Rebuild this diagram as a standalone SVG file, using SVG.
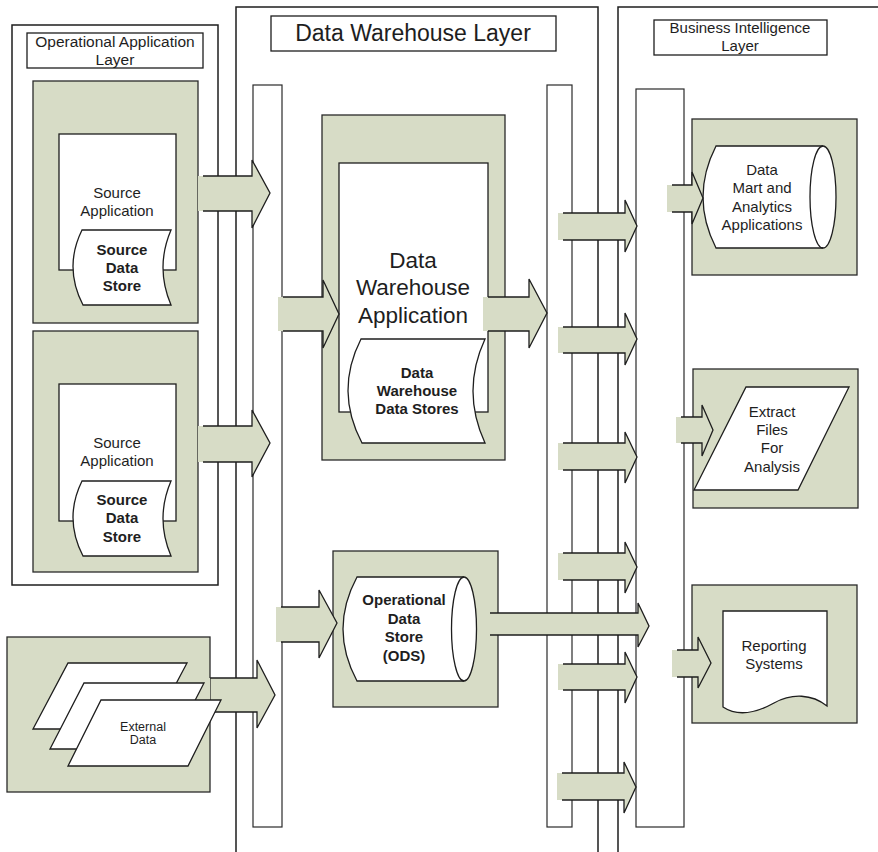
<svg xmlns="http://www.w3.org/2000/svg" width="878" height="852" viewBox="0 0 878 852">
  <style>
    .layer { fill: none; stroke: #1e1e1e; stroke-width: 1.5; }
    .bar { fill: #ffffff; stroke: #2a2a2a; stroke-width: 1.2; }
    .panel { fill: #d7dcc6; stroke: #2a2a2a; stroke-width: 1.3; }
    .shape { fill: #ffffff; stroke: #1e1e1e; stroke-width: 1.3; }
    .label { fill: #ffffff; stroke: #1e1e1e; stroke-width: 1.3; }
    .afill { fill: #d7dcc6; stroke: none; }
    .aline { fill: none; stroke: #1e1e1e; stroke-width: 1.3; stroke-linejoin: miter; }
    text { font-family: "Liberation Sans", Arial, sans-serif; fill: #1e1e1e; text-anchor: middle; }
    .t15 { font-size: 15px; }
    .b15 { font-size: 15px; font-weight: bold; }
    .big { font-size: 22.5px; }
    .ext { font-size: 12.5px; }
  </style>

  <!-- Layer frames -->
  <g id="operational-layer">
    <rect class="layer" x="12" y="25" width="206" height="560"/>
    <rect class="label" x="27" y="33" width="176" height="35"/>
    <text class="t15" style="font-size:15.5px" x="115" y="47">Operational Application</text>
    <text class="t15" style="font-size:15.5px" x="115" y="65">Layer</text>
  </g>
  <g id="warehouse-layer">
    <path class="layer" d="M236,852 V7 H598 V852"/>
    <rect class="label" x="271" y="16" width="285" height="35"/>
    <text style="font-size:23px" x="413" y="41">Data Warehouse Layer</text>
  </g>
  <g id="bi-layer">
    <path class="layer" d="M618,852 V7 H878"/>
    <rect class="label" x="654" y="20" width="173" height="35"/>
    <text class="t15" x="740" y="33">Business Intelligence</text>
    <text class="t15" x="740" y="51">Layer</text>
  </g>

  <!-- Transport bars -->
  <g id="bars">
    <rect class="bar" x="253" y="85" width="29" height="742"/>
    <rect class="bar" x="547" y="85" width="25" height="742"/>
    <rect class="bar" x="636" y="89" width="48" height="738"/>
  </g>

  <!-- Source application 1 -->
  <g id="source-app-1">
    <rect class="panel" x="33" y="81" width="165" height="242"/>
    <rect class="shape" x="59" y="134" width="117" height="136"/>
    <text class="t15" x="117" y="198">Source</text>
    <text class="t15" x="117" y="216">Application</text>
    <path class="shape" d="M82,230 L171,230 Q155,267.5 171,305 L83,305 Q63.5,267.5 82,230 Z"/>
    <text class="b15" x="122" y="255">Source</text>
    <text class="b15" x="122" y="273">Data</text>
    <text class="b15" x="122" y="291">Store</text>
  </g>

  <!-- Source application 2 -->
  <g id="source-app-2">
    <rect class="panel" x="33" y="331" width="165" height="241"/>
    <rect class="shape" x="59" y="384" width="117" height="137"/>
    <text class="t15" x="117" y="448">Source</text>
    <text class="t15" x="117" y="466">Application</text>
    <path class="shape" d="M82,481 L171,481 Q155,518.5 171,556 L83,556 Q63.5,518.5 82,481 Z"/>
    <text class="b15" x="122" y="505">Source</text>
    <text class="b15" x="122" y="523">Data</text>
    <text class="b15" x="122" y="542">Store</text>
  </g>

  <!-- Data warehouse application -->
  <g id="dw-app">
    <rect class="panel" x="322" y="115" width="183" height="345"/>
    <rect class="shape" x="339" y="163" width="149" height="249"/>
    <text class="big" x="413" y="268">Data</text>
    <text class="big" x="413" y="295">Warehouse</text>
    <text class="big" x="413" y="323">Application</text>
    <path class="shape" d="M361,339 L485,339 Q461,391 485,443 L362,443 Q334.5,391 361,339 Z"/>
    <text class="b15" x="417" y="378">Data</text>
    <text class="b15" x="417" y="396">Warehouse</text>
    <text class="b15" x="417" y="414">Data Stores</text>
  </g>

  <!-- Operational data store -->
  <g id="ods">
    <rect class="panel" x="333" y="551" width="165" height="156"/>
    <path class="shape" d="M357,577 L464,577 A12.5,52 0 0 1 464,681 L357,681 Q329,629 357,577 Z"/>
    <path class="aline" d="M464,577 A12.5,52 0 0 0 464,681"/>
    <text class="b15" x="404" y="605">Operational</text>
    <text class="b15" x="404" y="624">Data</text>
    <text class="b15" x="404" y="642">Store</text>
    <text class="b15" x="404" y="661">(ODS)</text>
  </g>

  <!-- Data mart -->
  <g id="data-mart">
    <rect class="panel" x="692" y="119" width="165" height="156"/>
    <path class="shape" d="M716,146 L823,146 A13,51 0 0 1 823,248 L716,248 Q690,197 716,146 Z"/>
    <path class="aline" d="M823,146 A13,51 0 0 0 823,248"/>
    <text class="t15" x="762" y="175">Data</text>
    <text class="t15" x="762" y="193">Mart and</text>
    <text class="t15" x="762" y="212">Analytics</text>
    <text class="t15" x="762" y="230">Applications</text>
  </g>

  <!-- Extract files -->
  <g id="extract-files">
    <rect class="panel" x="693" y="369" width="165" height="139"/>
    <path class="shape" d="M746,387 L849,387 L798,490 L694,490 Z"/>
    <text class="t15" x="772" y="417">Extract</text>
    <text class="t15" x="772" y="435">Files</text>
    <text class="t15" x="772" y="453">For</text>
    <text class="t15" x="772" y="472">Analysis</text>
  </g>

  <!-- Reporting systems -->
  <g id="reporting">
    <rect class="panel" x="692" y="585" width="165" height="138"/>
    <path class="shape" d="M723,611 L827,611 L827,706 C812,694 792,693 774,703 C756,713 738,717 723,707 Z"/>
    <text class="t15" x="774" y="651">Reporting</text>
    <text class="t15" x="774" y="669">Systems</text>
  </g>

  <!-- Block arrows -->
  <g id="connectors">
    <!-- source 1 to warehouse bar -->
    <polygon class="afill" points="198,176 252,176 252,160 270,193 252,228 252,211 198,211"/>
    <polyline class="aline" points="203,176 252,176 252,160 270,193 252,228 252,211 203,211"/>
    <!-- source 2 to warehouse bar -->
    <polygon class="afill" points="198,426 252,426 252,410 270,443 252,477 252,462 198,462"/>
    <polyline class="aline" points="203,426 252,426 252,410 270,443 252,477 252,462 203,462"/>
    <!-- external data to warehouse bar -->
    <polygon class="afill" points="180,678 257,678 257,660 275,695 257,728 257,712 180,712"/>
    <polyline class="aline" points="185,678 257,678 257,660 275,695 257,728 257,712 185,712"/>
    <!-- bar to warehouse application -->
    <polygon class="afill" points="278,297 323,297 323,280 339,314 323,348 323,331 278,331"/>
    <polyline class="aline" points="283,297 323,297 323,280 339,314 323,348 323,331 283,331"/>
    <!-- warehouse application to bar -->
    <polygon class="afill" points="483,297 529,297 529,279 547,313 529,348 529,331 483,331"/>
    <polyline class="aline" points="488,297 529,297 529,279 547,313 529,348 529,331 488,331"/>
    <!-- bar to ODS -->
    <polygon class="afill" points="276,607 319,607 319,590 337,623 319,658 319,642 276,642"/>
    <polyline class="aline" points="281,607 319,607 319,590 337,623 319,658 319,642 281,642"/>
    <!-- ODS to BI bar -->
    <polygon class="afill" points="485,613 638,613 638,603 649,626 638,647 638,635 485,635"/>
    <polyline class="aline" points="490,613 638,613 638,603 649,626 638,647 638,635 490,635"/>
    <!-- warehouse bar to BI bar -->
    <polygon class="afill" points="558,213 625,213 625,200 637,226 625,252 625,240 558,240"/>
    <polyline class="aline" points="563,213 625,213 625,200 637,226 625,252 625,240 563,240"/>
    <polygon class="afill" points="558,327 625,327 625,313 637,339 625,365 625,353 558,353"/>
    <polyline class="aline" points="563,327 625,327 625,313 637,339 625,365 625,353 563,353"/>
    <polygon class="afill" points="558,443 625,443 625,432 637,457 625,483 625,470 558,470"/>
    <polyline class="aline" points="563,443 625,443 625,432 637,457 625,483 625,470 563,470"/>
    <polygon class="afill" points="558,553 625,553 625,542 637,567 625,593 625,580 558,580"/>
    <polyline class="aline" points="563,553 625,553 625,542 637,567 625,593 625,580 563,580"/>
    <polygon class="afill" points="558,664 625,664 625,652 637,677 625,703 625,690 558,690"/>
    <polyline class="aline" points="563,664 625,664 625,652 637,677 625,703 625,690 563,690"/>
    <polygon class="afill" points="557,773 624,773 624,762 636,787 624,813 624,800 557,800"/>
    <polyline class="aline" points="562,773 624,773 624,762 636,787 624,813 624,800 562,800"/>
    <!-- BI bar to BI components -->
    <polygon class="afill" points="667,185 692,185 692,172 703,198 692,224 692,212 667,212"/>
    <polyline class="aline" points="672,185 692,185 692,172 703,198 692,224 692,212 672,212"/>
    <polygon class="afill" points="676,417 702,417 702,405 713,430 702,456 702,443 676,443"/>
    <polyline class="aline" points="681,417 702,417 702,405 713,430 702,456 702,443 681,443"/>
    <polygon class="afill" points="672,650 698,650 698,637 711,663 698,688 698,677 672,677"/>
    <polyline class="aline" points="677,650 698,650 698,637 711,663 698,688 698,677 677,677"/>
  </g>

  <!-- External data (stacked sheets drawn over its outgoing arrow) -->
  <g id="external-data">
    <rect class="panel" x="7" y="637" width="203" height="155"/>
    <polygon class="afill" points="180,678 210,678 210,712 180,712"/>
    <path class="shape" d="M68,663 L187,663 L152,729 L33,729 Z"/>
    <path class="shape" d="M84,683 L204,683 L170,749 L50,749 Z"/>
    <path class="shape" d="M101,700 L221,700 L188,766 L68,766 Z"/>
    <text class="ext" x="143" y="731">External</text>
    <text class="ext" x="143" y="744">Data</text>
  </g>
</svg>
